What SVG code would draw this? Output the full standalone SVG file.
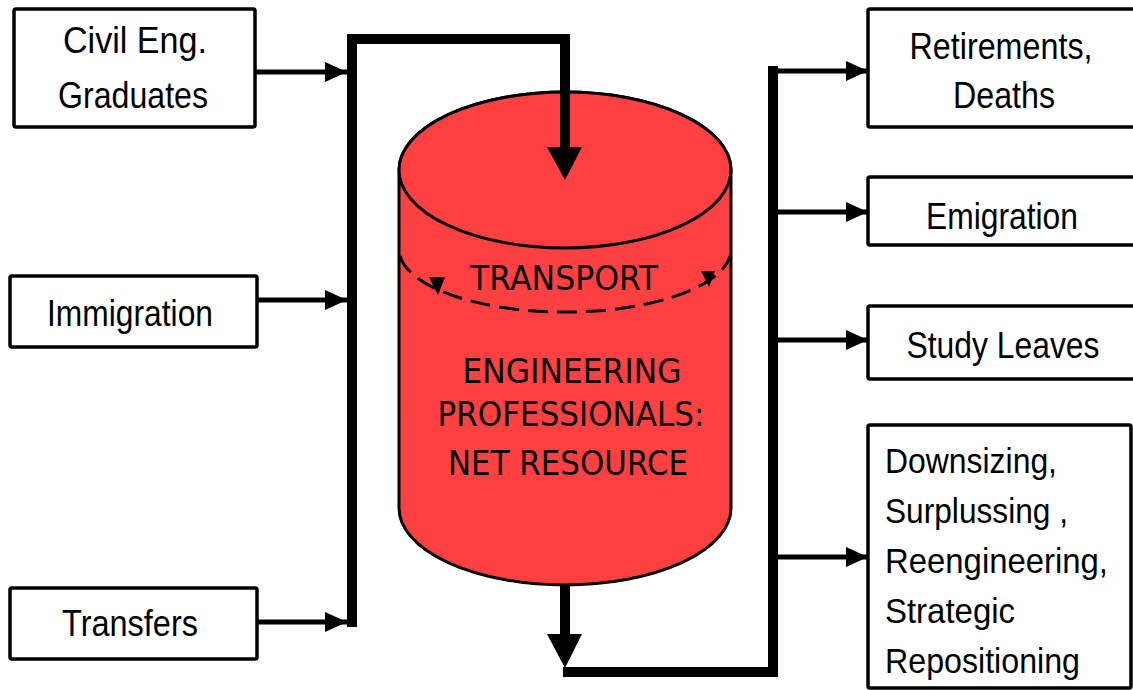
<svg xmlns="http://www.w3.org/2000/svg" width="1133" height="690" viewBox="0 0 1133 690">
<style>
.box{fill:#fff;stroke:#000;stroke-width:3.5}
.lbl{font-family:"Liberation Sans",Arial,sans-serif;font-size:37px;fill:#000}
.lbl2{font-family:"Liberation Sans",Arial,sans-serif;font-size:35px;fill:#000}
.cyl{font-family:"DejaVu Sans",Tahoma,sans-serif;font-size:33px;fill:#000}
.bus{fill:none;stroke:#000;stroke-width:10;stroke-linejoin:miter;stroke-linecap:butt}
.thin{fill:none;stroke:#000;stroke-width:5;marker-end:url(#ah)}
</style>
<defs>
<marker id="ah" markerUnits="userSpaceOnUse" markerWidth="24" markerHeight="22" refX="22" refY="10" orient="auto" viewBox="0 0 24 22">
<path d="M0,0 L22,10 L0,20 Z" fill="#000"/>
</marker>
</defs>
<rect width="1133" height="690" fill="#fff"/>

<g id="cylinder">
<path d="M399,170 V508 A166,77 0 0 0 731,508 V170 A166,78 0 0 0 399,170 Z" fill="#FF4040" stroke="#000" stroke-width="3"/>
<ellipse cx="565" cy="170" rx="166" ry="78" fill="#FF4040" stroke="#000" stroke-width="3"/>
<path d="M400,256 A166,63 0 0 0 730,256" fill="none" stroke="#000" stroke-width="3" stroke-dasharray="20,9"/>
<path d="M429,277 L445,277 L438,295 Z" fill="#000"/>
<path d="M701,271 L715,271 L709,287 Z" fill="#000"/>
<text class="cyl" x="564" y="290" text-anchor="middle" textLength="188" lengthAdjust="spacingAndGlyphs">TRANSPORT</text>
<text class="cyl" x="572" y="383" text-anchor="middle" textLength="219" lengthAdjust="spacingAndGlyphs">ENGINEERING</text>
<text class="cyl" x="571" y="426" text-anchor="middle" textLength="267" lengthAdjust="spacingAndGlyphs">PROFESSIONALS:</text>
<text class="cyl" x="568" y="475" text-anchor="middle" textLength="240" lengthAdjust="spacingAndGlyphs">NET RESOURCE</text>
</g>

<g id="civil">
<rect class="box" x="14" y="9" width="241" height="118" rx="2"/>
<text class="lbl" x="135" y="53" text-anchor="middle" textLength="144" lengthAdjust="spacingAndGlyphs">Civil Eng.</text>
<text class="lbl" x="133" y="108" text-anchor="middle" textLength="150" lengthAdjust="spacingAndGlyphs">Graduates</text>
</g>
<g id="immigration">
<rect class="box" x="10" y="276" width="247" height="71" rx="2"/>
<text class="lbl" x="130" y="326" text-anchor="middle" textLength="166" lengthAdjust="spacingAndGlyphs">Immigration</text>
</g>
<g id="transfers">
<rect class="box" x="10" y="588" width="247" height="71" rx="2"/>
<text class="lbl" x="130" y="636" text-anchor="middle" textLength="136" lengthAdjust="spacingAndGlyphs">Transfers</text>
</g>

<g id="retirements">
<rect class="box" x="868" y="9" width="275" height="118" rx="2"/>
<text class="lbl" x="1001" y="59" text-anchor="middle" textLength="183" lengthAdjust="spacingAndGlyphs">Retirements,</text>
<text class="lbl" x="1004" y="108" text-anchor="middle" textLength="102" lengthAdjust="spacingAndGlyphs">Deaths</text>
</g>
<g id="emigration">
<rect class="box" x="868" y="177" width="275" height="68" rx="2"/>
<text class="lbl" x="1002" y="229" text-anchor="middle" textLength="152" lengthAdjust="spacingAndGlyphs">Emigration</text>
</g>
<g id="study">
<rect class="box" x="868" y="306" width="275" height="73" rx="2"/>
<text class="lbl" x="1003" y="358" text-anchor="middle" textLength="193" lengthAdjust="spacingAndGlyphs">Study Leaves</text>
</g>
<g id="downsizing">
<rect class="box" x="868" y="425" width="263" height="263" rx="2"/>
<text class="lbl2" x="885" y="473" textLength="172" lengthAdjust="spacingAndGlyphs">Downsizing,</text>
<text class="lbl2" x="885" y="523" textLength="183" lengthAdjust="spacingAndGlyphs">Surplussing ,</text>
<text class="lbl2" x="885" y="573" textLength="223" lengthAdjust="spacingAndGlyphs">Reengineering,</text>
<text class="lbl2" x="885" y="623" textLength="130" lengthAdjust="spacingAndGlyphs">Strategic</text>
<text class="lbl2" x="885" y="673" textLength="195" lengthAdjust="spacingAndGlyphs">Repositioning</text>
</g>

<g id="connectors">
<path class="bus" d="M352,627 V39 H565 V150"/>
<path d="M547,147 L582,147 L565,180 Z" fill="#000"/>
<path class="bus" d="M565,585 V637"/>
<path d="M547,634 L582,634 L565,668 Z" fill="#000"/>
<path class="bus" d="M563,672 H773 V66"/>
<path class="thin" d="M255,72 H347"/>
<path class="thin" d="M257,300 H347"/>
<path class="thin" d="M257,622 H347"/>
<path class="thin" d="M778,71 H868"/>
<path class="thin" d="M778,212 H868"/>
<path class="thin" d="M778,340 H868"/>
<path class="thin" d="M778,557 H868"/>
</g>
</svg>
